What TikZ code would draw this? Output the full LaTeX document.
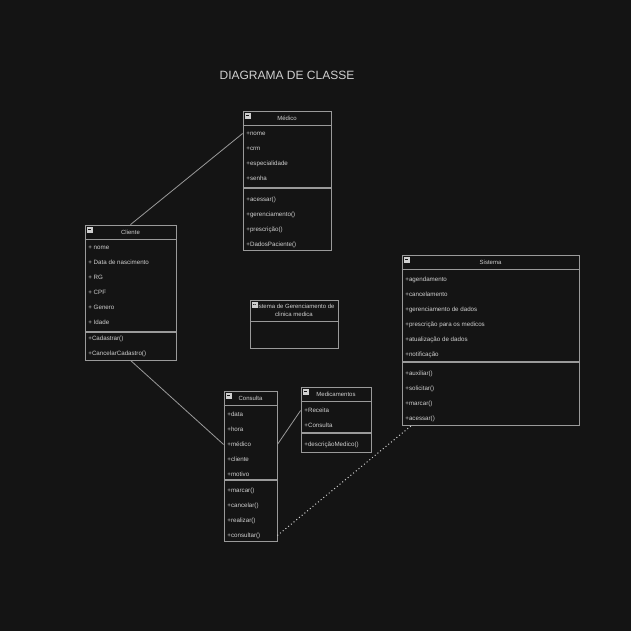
\documentclass[tikz,border=0pt]{standalone}
\usepackage{fontspec}
\setmainfont{Liberation Sans}
\usetikzlibrary{calc}
\definecolor{bg}{HTML}{141414}
\definecolor{edge}{HTML}{9A9A9A}
\definecolor{ink}{HTML}{CFCFCF}
\tikzset{every path/.style={edge, line width=0.8pt},
  box/.style={draw, rectangle, inner sep=0pt},
  item/.style={ink, anchor=west, inner sep=0pt, yshift=-1.5pt, font=\fontsize{6.2}{7}\selectfont},
  head/.style={ink, inner sep=0pt, align=center, font=\fontsize{6}{7.5}\selectfont}}

\begin{document}
\begin{tikzpicture}[x=1pt,y=-1pt]
   \fill[bg] (0,0) rectangle (631,631);
   \useasboundingbox (0,0) rectangle (631,631);
   \node[ink, inner sep=0pt, font=\fontsize{12}{14}\selectfont] (title) at (287,75) {DIAGRAMA DE CLASSE};
   % caixas
   \node[box, minimum width=88pt, minimum height=139pt] (medico) at (287,180.5) {};
   \node[box, minimum width=91pt, minimum height=135pt] (cliente) at (130.5,292.5) {};
   \node[box, minimum width=177pt, minimum height=170pt] (sistema) at (490.5,340) {};
   \node[box, minimum width=88pt, minimum height=48pt] (gerenc) at (294,324) {};
   \node[box, minimum width=53pt, minimum height=150pt] (consulta) at (250.5,466) {};
   \node[box, minimum width=70pt, minimum height=65pt] (medicamentos) at (336,419.5) {};
   \foreach \b in {medico,cliente,sistema,consulta,medicamentos}
     \draw[line width=1.2pt] ($(\b.north west)+(0,15)$) -- ($(\b.north east)+(0,15)$);
   \draw (250,321) -- (338,321);
   \draw[line width=1.2pt] (243,188) -- (331,188);
   \draw[line width=1.2pt] (85,332) -- (176,332);
   \draw[line width=1.2pt] (402,362) -- (579,362);
   \draw[line width=1.2pt] (224,480) -- (277,480);
   \draw[line width=1.2pt] (301,433) -- (371,433);
   \foreach \b in {medico,cliente,sistema,consulta,medicamentos,gerenc} {
     \fill[ink] ($(\b.north west)+(2,2)$) rectangle +(6,6);
     \draw[bg] ($(\b.north west)+(3.3,5)$) -- +(3.4,0);
   }
   % titulos
   \node[head] (hmedico) at (287,118.5) {Médico};
   \node[head] (hcliente) at (130.5,232.5) {Cliente};
   \node[head] (hsistema) at (490.5,262.5) {Sistema};
   \node[head] (hconsulta) at (250.5,398.5) {Consulta};
   \node[head] (hmedicamentos) at (336,394.5) {Medicamentos};
   \node[head] (hgerenc) at (294,310.5) {Sistema de Gerenciamento de\\clinica medica};
   % atributos e metodos
   \foreach \t [count=\i] in {+nome,+crm,+especialidade,+senha}
     \node[item] (m\i) at (246,117+15*\i) {\t};
   \foreach \t [count=\i] in {+acessar(),+gerenciamento(),+prescrição(),+DadosPaciente()}
     \node[item] (mm\i) at (246,183+15*\i) {\t};
   \foreach \t [count=\i] in {+ nome,+ Data de nascimento,+ RG,+ CPF,+ Genero,+ Idade}
     \node[item] (k\i) at (88,231+15*\i) {\t};
   \foreach \t [count=\i] in {+Cadastrar(),+CancelarCadastro()}
     \node[item] (kk\i) at (88,322+15*\i) {\t};
   \foreach \t [count=\i] in {+agendamento,+cancelamento,+gerenciamento de dados,+prescrição para os medicos,+atualização de dados,+notificação}
     \node[item] (s\i) at (405,263+15*\i) {\t};
   \foreach \t [count=\i] in {+auxiliar(),+solicitar(),+marcar(),+acessar()}
     \node[item] (ss\i) at (405,357+15*\i) {\t};
   \foreach \t [count=\i] in {+data,+hora,+médico,+cliente,+motivo}
     \node[item] (c\i) at (227,398+15*\i) {\t};
   \foreach \t [count=\i] in {+marcar(),+cancelar(),+realizar(),+consultar()}
     \node[item] (cc\i) at (227,474+15*\i) {\t};
   \foreach \t [count=\i] in {+Receita,+Consulta}
     \node[item] (d\i) at (304,394+15*\i) {\t};
   \node[item] (dd1) at (304,443) {+descriçãoMedico()};
   % ligacoes
   \draw (cliente.north) -- (medico.west |- m1);
   \draw (cliente.south) -- (consulta.west |- c3);
   \draw (consulta.east |- c3) -- (medicamentos.west |- d1);
   \draw[ink, line width=1pt, dash pattern=on 1pt off 2.5pt] (consulta.east |- cc4) -- ($(sistema.south west)+(10,0)$);
\end{tikzpicture}
\end{document}
